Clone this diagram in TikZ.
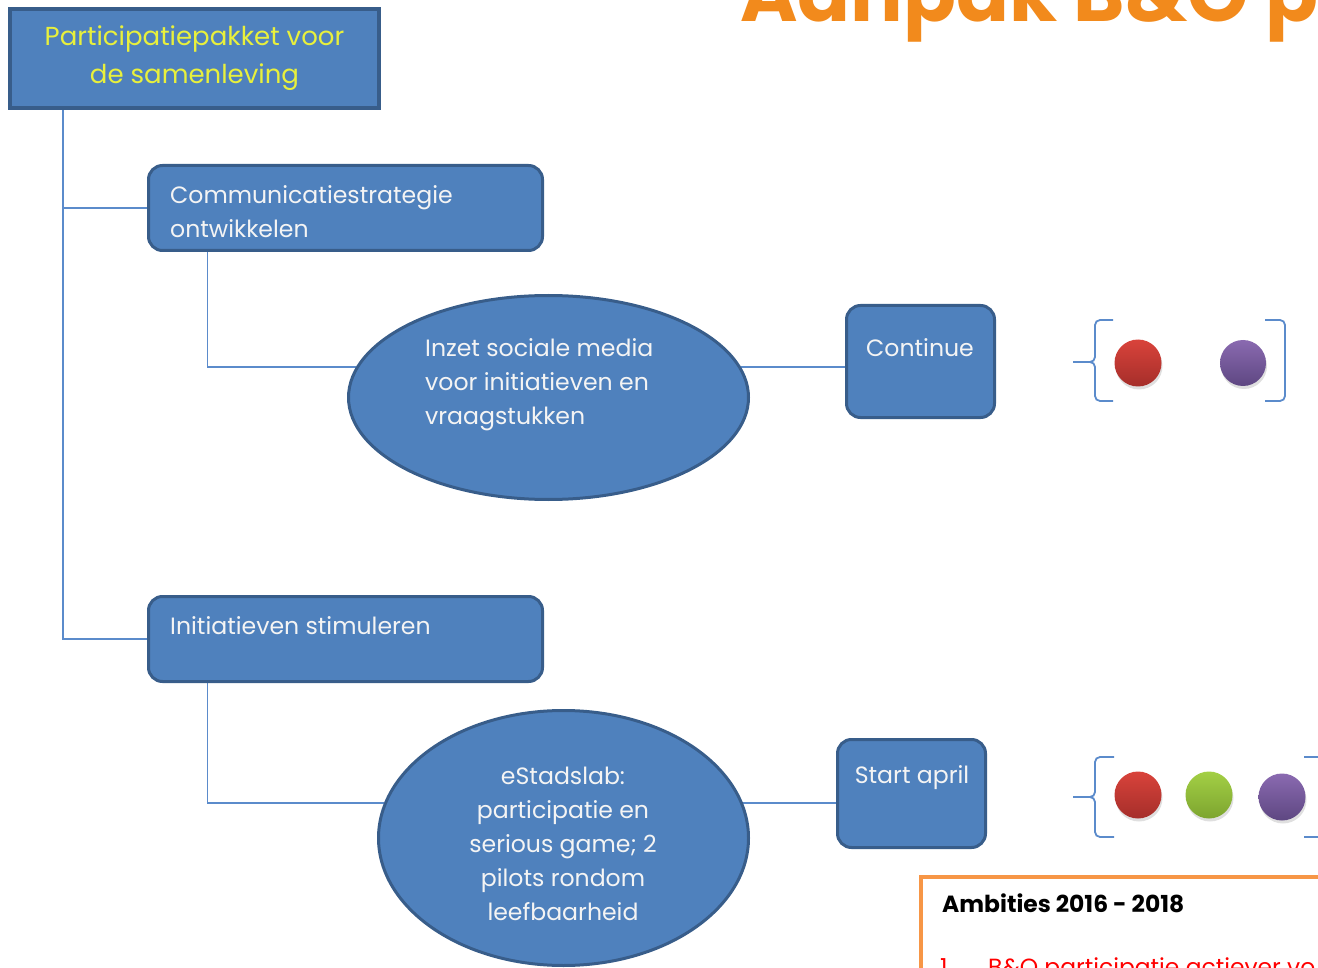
\documentclass[tikz,border=0pt]{standalone}
\usepackage{fontspec}
\setmainfont{Poppins}
\usetikzlibrary{shapes.geometric,calc,shadows}
\definecolor{nblue}{HTML}{4F81BD}
\definecolor{nborder}{HTML}{385D8A}
\definecolor{lineblue}{HTML}{5B8BCB}
\definecolor{rootyellow}{RGB}{232,240,60}
\definecolor{titleorange}{HTML}{F28A1C}
\definecolor{boxorange}{HTML}{F79646}
\definecolor{txtwhite}{HTML}{F4F4F4}
\definecolor{redT}{HTML}{D9433B}
\definecolor{redB}{HTML}{A52E2A}
\definecolor{greenT}{HTML}{A3CF45}
\definecolor{greenB}{HTML}{7DA52F}
\definecolor{purpleT}{HTML}{8A6AB0}
\definecolor{purpleB}{HTML}{5E4782}
\pgfdeclarelayer{bg}
\pgfsetlayers{bg,main}
\begin{document}
\begin{tikzpicture}[x=1pt,y=-1pt,
  rootbox/.style={draw=nborder, line width=4pt, fill=nblue, inner sep=0, text=rootyellow, font=\fontsize{26}{38}\selectfont, align=center},
  bluebox/.style={draw=nborder, line width=3pt, fill=nblue, rounded corners=14pt, inner sep=0},
  blueell/.style={ellipse, draw=nborder, line width=3pt, fill=nblue, inner sep=0},
  txt/.style={text=txtwhite, inner sep=0, font=\fontsize{23.6}{34}\selectfont},
  conn/.style={draw=lineblue, line width=1.6pt},
  brk/.style={draw=lineblue, line width=1.8pt, rounded corners=5pt},
  ball/.style={circle, minimum size=47pt, inner sep=0, drop shadow={shadow xshift=1pt, shadow yshift=-3pt, opacity=0.25}},
  boxtxt/.style={anchor=base west, inner sep=0, font=\fontsize{23.4}{26}\selectfont},
  titletxt/.style={anchor=base west, inner sep=0, font=\bfseries\fontsize{78}{80}\selectfont},
]
\useasboundingbox (0,0) rectangle (1318,968);
\clip (0,0) rectangle (1318,968);

% title (cut off at the top)
\node[titletxt, text=titleorange] (title) at (740,22) {Aanpak B\&O p};

% root
\node[rootbox, minimum width=369pt, minimum height=99pt] (root) at (194.5,58.5) {Participatiepakket voor\\de samenleving};

% branch 1
\node[bluebox, minimum width=394pt, minimum height=85pt] (comm) at (345.5,208) {};
\node[txt, align=left, anchor=west] (commtxt) at (170,212) {Communicatiestrategie\\ontwikkelen};
\node[blueell, minimum width=400pt, minimum height=204pt] (e1) at (548.5,397.5) {};
\node[txt, align=left, anchor=west] (e1txt) at (425,385) {Inzet sociale media\\voor initiatieven en\\vraagstukken};
\node[bluebox, minimum width=148pt, minimum height=112pt] (cont) at (920.5,361.5) {};
\node[txt] (conttxt) at (920,348) {Continue};

% branch 2
\node[bluebox, minimum width=394pt, minimum height=85pt] (init) at (345.5,639) {};
\node[txt, anchor=west] (inittxt) at (170,626) {Initiatieven stimuleren};
\node[blueell, minimum width=370pt, minimum height=255pt] (e2) at (563.5,838) {};
\node[txt, align=center] (e2txt) at (563,844) {eStadslab:\\participatie en\\serious game; 2\\pilots rondom\\leefbaarheid};
\node[bluebox, minimum width=148pt, minimum height=108pt] (sa) at (911.5,793.5) {};
\node[txt] (satxt) at (912,778) {Start april};

% connectors
\begin{pgfonlayer}{bg}
\draw[conn] ($(root.south west)+(55,0)$) |- (comm.west);
\draw[conn] ($(root.south west)+(55,0)$) |- (init.west);
\draw[conn] ($(comm.south west)+(60.5,0)$) |- (e1.171);
\draw[conn] (e1.9) -- (e1.9 -| cont.west);
\draw[conn] ($(init.south west)+(60.5,0)$) |- (e2.169);
\draw[conn] (e2.11) -- (e2.11 -| sa.west);
\end{pgfonlayer}

% bracket group 1
\draw[brk] (1113,320) -- (1095,320) -- (1095,362) -- (1073,362);
\draw[brk] (1113,401) -- (1095,401) -- (1095,362) -- (1073,362);
\draw[brk] (1265,320) -- (1285,320) -- (1285,401) -- (1265,401);
\node[ball, top color=redT, bottom color=redB] (r1) at (1138,363) {};
\node[ball, top color=purpleT, bottom color=purpleB, minimum size=46pt] (p1) at (1243,363) {};

% bracket group 2
\draw[brk] (1114,757) -- (1095,757) -- (1095,797) -- (1073,797);
\draw[brk] (1114,837) -- (1095,837) -- (1095,797) -- (1073,797);
\draw[brk] (1304,757) -- (1328,757) -- (1328,837) -- (1304,837);
\node[ball, top color=redT, bottom color=redB] (r2) at (1138,795) {};
\node[ball, top color=greenT, bottom color=greenB] (g2) at (1209,795) {};
\node[ball, top color=purpleT, bottom color=purpleB] (p2) at (1282,797) {};

% ambities box
\draw[draw=boxorange, line width=4.5pt, fill=white] (921,877) rectangle (1345,1000);
\node[boxtxt, font=\bfseries\fontsize{23.4}{26}\selectfont, text=black] (amb) at (942,912) {Ambities 2016 - 2018};
\node[boxtxt, text=red] (num1) at (940,975) {1.};
\node[boxtxt, text=red] (amb1) at (988,975) {B\&O participatie actiever vo};
\end{tikzpicture}
\end{document}
